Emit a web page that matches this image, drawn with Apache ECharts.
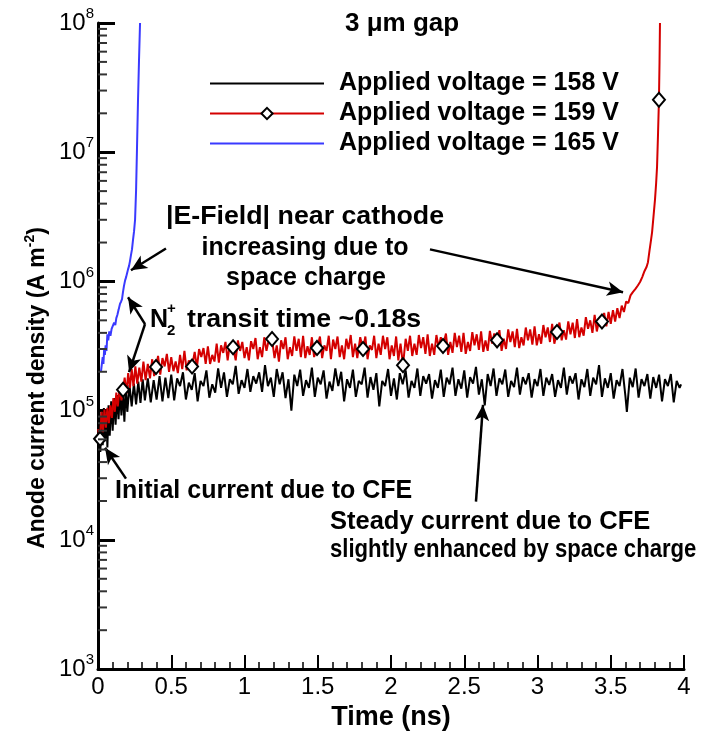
<!DOCTYPE html>
<html>
<head>
<meta charset="utf-8">
<script src="https://cdn.jsdelivr.net/npm/echarts@6/dist/echarts.min.js"></script>
<style>
	html,body{margin:0;padding:0;background:#fff;}
	#anode-current-echarts{width:714px;height:736px;}
</style>
</head>
<body>
<div id="anode-current-echarts"></div>
<script>
// time (ns), anode current density (A m^-2)
var black158 = [
	[0.000,6.0e4],[0.008,9.0e4],[0.016,4.8e4],[0.024,9.8e4],[0.032,5.4e4],[0.040,1.05e5],[0.048,5.8e4],[0.056,1.02e5],[0.064,5.2e4],[0.072,1.1e5],
	[0.080,6.4e4],[0.090,1.18e5],[0.100,7.0e4],[0.110,1.25e5],[0.120,7.8e4],[0.130,1.32e5],[0.140,8.6e4],[0.150,1.4e5],[0.160,9.2e4],[0.170,1.42e5],
	[0.180,8.2e4],[0.190,1.5e5],[0.200,9.8e4],[0.215,1.58e5],[0.230,1.08e5],[0.245,1.62e5],[0.260,1.12e5],[0.275,1.68e5],[0.290,1.15e5],[0.305,1.75e5],
	[0.320,1.2e5],[0.340,1.78e5],[0.360,1.16e5],[0.380,1.72e5],[0.400,1.22e5],[0.420,1.85e5],[0.440,1.18e5],[0.460,1.8e5],[0.480,1.25e5],[0.500,1.9e5],
	[0.520,1.2e5],[0.540,1.78e5],[0.560,1.55e5],[0.580,1.98e5],[0.600,1.22e5],[0.620,1.65e5],[0.640,1.45e5],[0.660,1.95e5],[0.680,1.18e5],[0.700,1.7e5],
	[0.720,1.55e5],[0.740,2.05e5],[0.760,1.26e5],[0.780,1.6e5],[0.800,1.38e5],[0.820,2.12e5],[0.840,1.5e5],[0.860,1.98e5],[0.880,1.28e5],[0.900,1.75e5],
	[0.920,1.6e5],[0.940,2.22e5],[0.960,1.35e5],[0.980,1.72e5],[1.000,1.5e5],[1.020,2.1e5],[1.040,1.4e5],[1.060,1.85e5],[1.080,1.62e5],[1.100,1.98e5],
	[1.120,1.4e5],[1.140,2.25e5],[1.160,1.55e5],[1.180,1.8e5],[1.200,1.28e5],[1.220,2.1e5],[1.240,1.6e5],[1.260,1.98e5],[1.280,1.25e5],[1.300,1.75e5],
	[1.320,1.0e5],[1.340,1.9e5],[1.360,1.55e5],[1.380,2.08e5],[1.400,1.3e5],[1.420,1.72e5],[1.440,1.5e5],[1.460,2.15e5],[1.480,1.28e5],[1.500,1.8e5],
	[1.520,1.6e5],[1.540,2.05e5],[1.560,1.24e5],[1.580,1.68e5],[1.600,1.42e5],[1.620,2.12e5],[1.640,1.55e5],[1.660,2.0e5],[1.680,1.18e5],[1.700,1.75e5],
	[1.720,1.5e5],[1.740,2.08e5],[1.760,1.28e5],[1.780,1.7e5],[1.800,1.6e5],[1.820,2.15e5],[1.840,1.26e5],[1.860,1.82e5],[1.880,1.45e5],[1.900,1.95e5],
	[1.920,1.08e5],[1.940,1.7e5],[1.960,1.55e5],[1.980,2.1e5],[2.000,1.3e5],[2.020,1.78e5],[2.040,1.22e5],[2.060,1.95e5],[2.080,1.6e5],[2.100,2.05e5],
	[2.120,1.26e5],[2.140,1.7e5],[2.160,1.5e5],[2.180,2.12e5],[2.200,1.3e5],[2.220,1.85e5],[2.240,1.62e5],[2.260,1.92e5],[2.280,1.24e5],[2.300,1.72e5],
	[2.320,1.5e5],[2.340,2.08e5],[2.360,1.28e5],[2.380,1.8e5],[2.400,1.6e5],[2.420,2.15e5],[2.440,1.3e5],[2.460,1.75e5],[2.480,1.48e5],[2.500,2.05e5],
	[2.520,1.26e5],[2.540,1.82e5],[2.560,1.62e5],[2.580,2.18e5],[2.600,1.33e5],[2.620,1.75e5],[2.640,1.1e5],[2.660,1.92e5],[2.680,1.55e5],[2.700,2.12e5],
	[2.720,1.3e5],[2.740,1.78e5],[2.760,1.6e5],[2.780,2.08e5],[2.800,1.28e5],[2.820,1.7e5],[2.840,1.52e5],[2.860,2.15e5],[2.880,1.33e5],[2.900,1.82e5],
	[2.920,1.6e5],[2.940,1.95e5],[2.960,1.26e5],[2.980,1.75e5],[3.000,1.55e5],[3.020,2.1e5],[3.040,1.3e5],[3.060,1.8e5],[3.080,1.58e5],[3.100,1.92e5],
	[3.120,1.28e5],[3.140,1.72e5],[3.160,1.5e5],[3.180,2.15e5],[3.200,1.33e5],[3.220,1.85e5],[3.240,1.62e5],[3.260,1.95e5],[3.280,1.22e5],[3.300,1.75e5],
	[3.320,1.52e5],[3.340,2.1e5],[3.360,1.3e5],[3.380,1.8e5],[3.400,1.6e5],[3.420,2.25e5],[3.440,1.28e5],[3.460,1.78e5],[3.480,1.5e5],[3.500,1.95e5],
	[3.520,1.24e5],[3.540,1.72e5],[3.560,1.55e5],[3.580,2.1e5],[3.600,1.3e5],[3.610,9.8e4],[3.630,1.8e5],[3.650,1.52e5],[3.670,2.12e5],[3.690,1.26e5],
	[3.710,1.75e5],[3.730,1.55e5],[3.750,1.92e5],[3.770,1.24e5],[3.790,1.82e5],[3.810,1.5e5],[3.830,1.9e5],[3.850,1.18e5],[3.870,1.75e5],[3.890,1.55e5],
	[3.910,1.92e5],[3.930,1.16e5],[3.950,1.7e5],[3.970,1.5e5],[3.980,1.6e5]
];

var red159 = [
	[0.000,7.2e4],[0.014,6.05e4],[0.024,9.8e4],[0.034,6.8e4],[0.044,1.02e5],[0.054,7.4e4],[0.064,1.05e5],[0.074,8.0e4],[0.084,1.1e5],[0.095,8.8e4],
	[0.105,1.25e5],[0.115,9.8e4],[0.125,1.38e5],[0.135,1.08e5],[0.148,1.5e5],[0.160,1.2e5],[0.171,1.45e5],[0.182,1.8e5],[0.194,1.35e5],[0.206,1.95e5],
	[0.218,1.5e5],[0.230,2.1e5],[0.242,1.55e5],[0.255,2.2e5],[0.268,1.62e5],[0.282,2.15e5],[0.296,1.68e5],[0.310,2.4e5],[0.325,1.72e5],[0.340,2.3e5],
	[0.355,1.78e5],[0.370,2.5e5],[0.383,1.85e5],[0.396,2.18e5],[0.410,2.65e5],[0.425,1.9e5],[0.440,2.55e5],[0.455,2.2e5],[0.470,2.75e5],[0.485,2.0e5],
	[0.500,2.6e5],[0.515,2.02e5],[0.530,2.4e5],[0.545,1.95e5],[0.560,2.7e5],[0.575,2.1e5],[0.590,2.9e5],[0.605,2.05e5],[0.620,2.45e5],[0.642,2.2e5],
	[0.660,2.85e5],[0.675,2.15e5],[0.690,3.0e5],[0.705,2.6e5],[0.720,3.05e5],[0.735,2.3e5],[0.750,3.15e5],[0.765,2.3e5],[0.780,2.7e5],[0.795,2.4e5],
	[0.810,3.3e5],[0.825,2.35e5],[0.840,3.2e5],[0.855,2.8e5],[0.870,3.4e5],[0.885,2.45e5],[0.900,3.3e5],[0.922,3.1e5],[0.940,2.45e5],[0.955,3.5e5],
	[0.970,2.9e5],[0.985,3.4e5],[1.000,2.55e5],[1.015,3.1e5],[1.030,2.45e5],[1.045,3.45e5],[1.060,3.0e5],[1.075,3.65e5],[1.090,2.5e5],[1.105,3.1e5],
	[1.120,2.6e5],[1.135,3.7e5],[1.150,2.9e5],[1.165,3.5e5],[1.188,3.58e5],[1.205,2.55e5],[1.220,3.2e5],[1.235,2.4e5],[1.250,3.5e5],[1.265,3.0e5],
	[1.280,3.7e5],[1.295,2.5e5],[1.310,3.1e5],[1.325,2.65e5],[1.340,3.75e5],[1.355,2.9e5],[1.370,3.6e5],[1.385,2.6e5],[1.400,3.8e5],[1.415,2.55e5],
	[1.430,3.15e5],[1.445,2.7e5],[1.460,3.7e5],[1.475,2.6e5],[1.495,3.06e5],[1.515,3.75e5],[1.530,2.55e5],[1.545,3.2e5],[1.560,2.9e5],[1.575,3.8e5],
	[1.590,2.5e5],[1.605,3.55e5],[1.620,3.0e5],[1.635,3.75e5],[1.650,2.6e5],[1.665,3.2e5],[1.680,2.5e5],[1.695,3.6e5],[1.710,3.0e5],[1.725,3.85e5],
	[1.740,2.6e5],[1.755,3.3e5],[1.770,2.55e5],[1.790,3.7e5],[1.809,3.0e5],[1.825,3.75e5],[1.840,2.5e5],[1.855,3.2e5],[1.870,2.95e5],[1.885,3.8e5],
	[1.900,2.55e5],[1.915,3.3e5],[1.930,2.7e5],[1.945,3.8e5],[1.960,3.0e5],[1.975,3.7e5],[1.990,2.5e5],[2.005,3.2e5],[2.020,2.65e5],[2.035,3.75e5],
	[2.050,2.45e5],[2.065,3.3e5],[2.082,2.25e5],[2.100,3.6e5],[2.115,2.9e5],[2.130,3.8e5],[2.145,2.65e5],[2.160,3.3e5],[2.175,2.7e5],[2.190,3.85e5],
	[2.205,3.05e5],[2.220,3.7e5],[2.235,2.75e5],[2.250,3.9e5],[2.265,2.65e5],[2.280,3.3e5],[2.295,2.7e5],[2.310,3.85e5],[2.325,3.1e5],[2.340,3.7e5],
	[2.355,3.16e5],[2.375,3.95e5],[2.390,2.7e5],[2.405,3.4e5],[2.420,2.8e5],[2.435,4.0e5],[2.450,3.1e5],[2.465,3.8e5],[2.480,2.85e5],[2.495,4.0e5],
	[2.510,2.75e5],[2.525,3.4e5],[2.540,2.9e5],[2.555,4.05e5],[2.570,3.2e5],[2.585,3.9e5],[2.600,2.95e5],[2.615,4.1e5],[2.630,2.85e5],[2.645,3.5e5],
	[2.660,2.9e5],[2.675,4.15e5],[2.690,3.3e5],[2.705,3.95e5],[2.724,3.5e5],[2.740,4.2e5],[2.755,2.9e5],[2.770,3.6e5],[2.785,3.0e5],[2.800,4.25e5],
	[2.815,3.4e5],[2.830,4.1e5],[2.845,3.1e5],[2.860,4.3e5],[2.875,3.05e5],[2.890,3.7e5],[2.905,3.2e5],[2.920,4.4e5],[2.935,3.5e5],[2.950,4.25e5],
	[2.965,3.25e5],[2.980,4.5e5],[2.995,3.2e5],[3.010,3.9e5],[3.025,3.3e5],[3.040,4.6e5],[3.055,3.7e5],[3.070,4.4e5],[3.085,3.4e5],[3.100,4.7e5],
	[3.115,3.3e5],[3.133,4.06e5],[3.150,4.8e5],[3.165,3.5e5],[3.180,4.2e5],[3.195,3.55e5],[3.210,4.9e5],[3.225,3.9e5],[3.240,4.8e5],[3.255,3.65e5],
	[3.270,5.1e5],[3.285,3.7e5],[3.300,4.4e5],[3.315,3.8e5],[3.330,5.3e5],[3.345,4.3e5],[3.360,5.0e5],[3.375,4.0e5],[3.390,5.5e5],[3.405,4.1e5],
	[3.420,5.0e5],[3.440,4.9e5],[3.455,5.7e5],[3.470,4.5e5],[3.485,5.8e5],[3.500,4.7e5],[3.515,6.0e5],[3.530,4.9e5],[3.545,6.2e5],[3.560,5.2e5],
	[3.575,6.5e5],[3.590,5.8e5],[3.605,7.0e5],[3.620,6.8e5],[3.635,7.8e5],[3.652,8.3e5],[3.670,8.8e5],[3.685,9.3e5],[3.700,9.9e5],[3.715,1.08e6],
	[3.730,1.2e6],[3.745,1.3e6],[3.754,1.41e6],[3.765,1.75e6],[3.775,2.1e6],[3.782,2.4e6],[3.792,3.2e6],[3.802,4.3e6],[3.810,5.8e6],[3.816,7.7e6],
	[3.823,1.42e7],[3.829,2.55e7],[3.833,5.0e7],[3.836,1.0e8]
];

// diamond symbols drawn on the 159 V curve
var red159Markers = [
	[0.014,6.05e4],[0.171,1.45e5],[0.396,2.18e5],[0.642,2.2e5],[0.922,3.1e5],[1.188,3.58e5],[1.495,3.06e5],
	[1.809,3.0e5],[2.082,2.25e5],[2.355,3.16e5],[2.724,3.5e5],[3.133,4.06e5],[3.440,4.9e5],[3.829,2.55e7]
];

var blue165 = [
	[0.020,2.0e5],[0.027,1.99e5],[0.032,2.6e5],[0.037,2.3e5],[0.042,3.0e5],[0.047,2.7e5],[0.052,3.2e5],[0.058,2.9e5],[0.064,3.9e5],[0.070,3.5e5],
	[0.077,4.1e5],[0.085,3.8e5],[0.093,4.3e5],[0.102,4.3e5],[0.110,4.8e5],[0.118,4.6e5],[0.125,5.2e5],[0.132,5.5e5],[0.140,6.0e5],[0.150,6.7e5],
	[0.158,7.0e5],[0.164,7.3e5],[0.170,8.2e5],[0.177,9.2e5],[0.185,1.02e6],[0.192,1.08e6],[0.198,1.15e6],[0.205,1.24e6],[0.212,1.32e6],[0.218,1.43e6],
	[0.225,1.6e6],[0.232,1.77e6],[0.239,2.1e6],[0.246,2.44e6],[0.253,3.0e6],[0.260,5.1e6],[0.266,1.05e7],[0.273,2.5e7],[0.280,5.2e7],[0.287,1.0e8]
];

var seriesNames = ['Applied voltage = 158 V','Applied voltage = 159 V','Applied voltage = 165 V'];

// log-axis minor ticks (2..9 x 10^n)
var minorMantissa = [2,3,4,5,6,7,8,9];
var minorDecades = [1e3,1e4,1e5,1e6,1e7];

// annotation arrows, [from, to] in data coordinates
var arrows = [
	[[0.464,1.8e6],[0.225,1.22e6]],
	[[2.266,1.77e6],[3.584,8.26e5]],
	[[0.321,4.68e5],[0.205,7.55e5]],
	[[0.321,4.68e5],[0.212,1.99e5]],
	[[0.191,2.98e4],[0.048,5.16e4]],
	[[2.580,1.98e4],[2.628,1.11e5]]
];

var FONT = '"Liberation Sans", Arial, Helvetica, sans-serif';

function anodeCurrentEcharts(idName){
	var chart = echarts.init(document.getElementById(idName));

	var minorTicks = [];
	for(var i=0;i<minorDecades.length;i++){
		for(var j=0;j<minorMantissa.length;j++){
			minorTicks.push([0, minorMantissa[j]*minorDecades[i]]);
		}
	}

	var arrowData = arrows.map(function(a){
		return [{coord:a[0], symbol:'none'},{coord:a[1], symbol:'arrow', symbolSize:[11,16]}];
	});

	function boldText(txt, x, y, size, align, sx){
		return {
			type:'text', x:x, y:y, scaleX:sx||1, silent:true,
			style:{
				text:txt, fill:'#000', align:align||'left', verticalAlign:'middle',
				textAlign:align||'left', textVerticalAlign:'middle',
				fontSize:size, fontWeight:'bold', fontFamily:FONT
			}
		};
	}

	var option = {
		animation:false,
		backgroundColor:'#fff',
		title:{
			text:'3 \u03bcm gap',
			left:340, top:6,
			textStyle:{fontSize:26, fontWeight:'bold', color:'#000', fontFamily:FONT}
		},
		legend:{
			data:seriesNames,
			orient:'vertical',
			left:204, top:66,
			itemWidth:114, itemHeight:14, itemGap:5,
			selectedMode:false,
			textStyle:{fontSize:25, fontWeight:'bold', color:'#000', fontFamily:FONT, padding:[0,0,0,10]}
		},
		grid:{left:98, right:30, top:23, bottom:65},
		xAxis:{
			type:'value', min:0, max:4, interval:0.5,
			name:'Time (ns)', nameLocation:'middle', nameGap:34,
			nameTextStyle:{fontSize:27, fontWeight:'bold', color:'#000', fontFamily:FONT},
			axisLine:{lineStyle:{color:'#000', width:3}},
			axisTick:{inside:true, length:14, lineStyle:{color:'#000', width:2}},
			minorTick:{show:true, splitNumber:5, length:7, lineStyle:{color:'#000', width:1.5}},
			axisLabel:{fontSize:24, color:'#000', fontFamily:FONT, margin:6},
			splitLine:{show:false}
		},
		yAxis:{
			type:'log', logBase:10, min:1e3, max:1e8,
			axisLine:{show:true, lineStyle:{color:'#000', width:3}},
			axisTick:{show:true, inside:true, length:17, lineStyle:{color:'#000', width:3}},
			axisLabel:{
				margin:4, color:'#000',
				formatter:function(v){
					return '{n|10}{e|' + Math.round(Math.log(v)/Math.LN10) + '}';
				},
				rich:{
					n:{fontSize:24, fontFamily:FONT, color:'#000'},
					e:{fontSize:15, fontFamily:FONT, color:'#000', padding:[0,0,18,0]}
				}
			},
			splitLine:{show:false}
		},
		graphic:[
			{
				type:'text', x:38, y:388, rotation:Math.PI/2, silent:true,
				style:{
					text:'{a|Anode current density (A m}{s|-2}{a|)}',
					align:'center', verticalAlign:'middle', textAlign:'center', textVerticalAlign:'middle',
					rich:{
						a:{fontSize:23, fontWeight:'bold', fontFamily:FONT, color:'#000'},
						s:{fontSize:14, fontWeight:'bold', fontFamily:FONT, color:'#000', padding:[0,0,16,0]}
					}
				}
			},
			boldText('|E-Field| near cathode', 305, 217, 25, 'center', 1.07),
			boldText('increasing due to', 305, 248, 25, 'center'),
			boldText('space charge', 306, 278, 25, 'center'),
			boldText('N', 150, 320, 25),
			boldText('+', 167, 309, 15),
			boldText('2', 167, 331, 15),
			boldText('transit time ~0.18s', 187, 320, 25, 'left', 1.07),
			boldText('Initial current due to CFE', 115, 491, 25),
			boldText('Steady current due to CFE', 330, 522, 25, 'left', 1.02),
			boldText('slightly enhanced by space charge', 330, 550, 25, 'left', 0.885)
		],
		series:[
			{
				name:seriesNames[0], type:'line', data:black158,
				symbol:'none', showSymbol:false,
				lineStyle:{color:'#000', width:2},
				itemStyle:{color:'rgba(0,0,0,0)'},
				markLine:{
					silent:true, symbol:['none','arrow'], symbolSize:14,
					label:{show:false},
					lineStyle:{color:'#000', width:2.5, type:'solid', opacity:1},
					itemStyle:{color:'#000'},
					data:arrowData
				},
				z:3
			},
			{
				name:seriesNames[1], type:'line', data:red159,
				symbol:'diamond', symbolSize:12, showSymbol:false,
				lineStyle:{color:'#d40000', width:2},
				itemStyle:{color:'#fff', borderColor:'#000', borderWidth:2},
				z:4
			},
			{
				name:seriesNames[2], type:'line', data:blue165,
				symbol:'none', showSymbol:false,
				lineStyle:{color:'#3a3aff', width:2},
				itemStyle:{color:'rgba(0,0,0,0)'},
				z:4
			},
			{
				name:'markers', type:'scatter', data:red159Markers,
				symbol:'diamond', symbolSize:[12,14],
				itemStyle:{color:'#fff', borderColor:'#000', borderWidth:2, opacity:1},
				silent:true, z:5
			},
			{
				name:'minorTicks', type:'custom', data:minorTicks, silent:true, clip:false, z:6,
				renderItem:function(params, api){
					var p = api.coord([0, api.value(1)]);
					return {
						type:'line',
						shape:{x1:p[0], y1:p[1], x2:p[0]+9, y2:p[1]},
						style:{stroke:'#333', lineWidth:2}
					};
				}
			}
		]
	};

	chart.setOption(option);
}

anodeCurrentEcharts('anode-current-echarts');
</script>
</body>
</html>
